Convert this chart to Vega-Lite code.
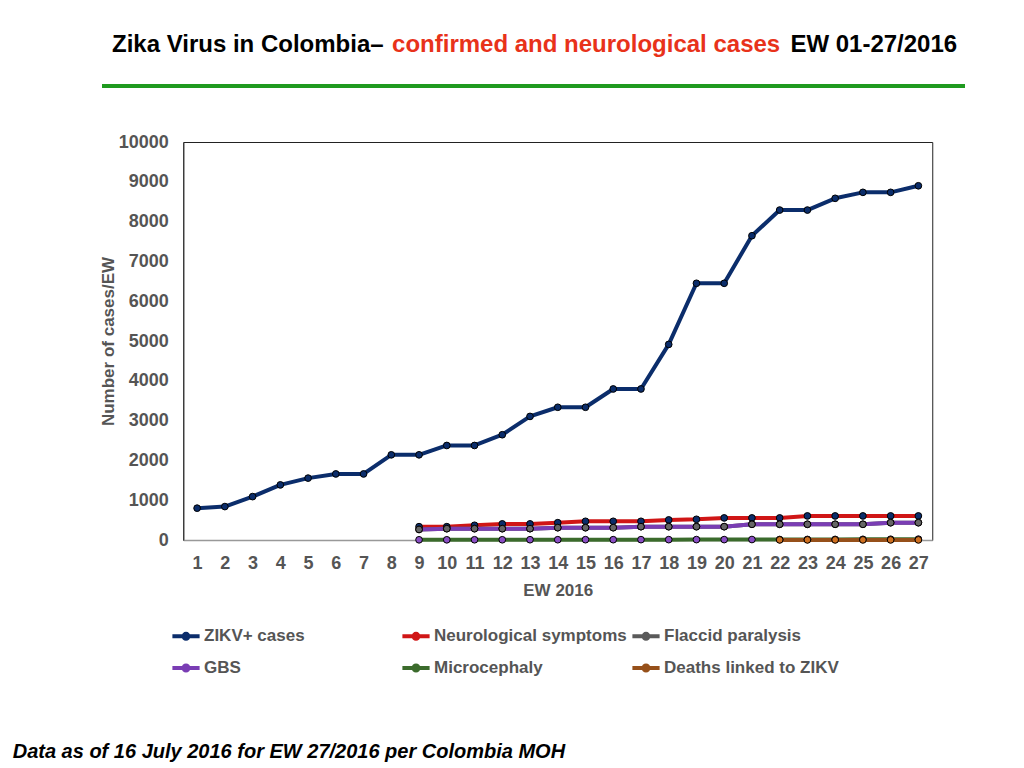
{
  "$schema": "https://vega.github.io/schema/vega-lite/v6.json",
  "autosize": {"type": "pad"},
  "padding": {"left": 12, "top": 33, "right": 5, "bottom": 5},
  "background": "white",
  "title": {
    "text": "Data as of 16 July 2016 for EW 27/2016 per Colombia MOH",
    "orient": "bottom",
    "anchor": "start",
    "font": "Liberation Sans",
    "fontSize": 20,
    "fontWeight": "bold",
    "fontStyle": "italic",
    "color": "black",
    "offset": 63,
    "dx": -86
  },
  "config": {
    "font": "Liberation Sans",
    "view": {"stroke": "#222", "strokeWidth": 1},
    "axis": {
      "labelFont": "Liberation Sans",
      "labelFontWeight": "bold",
      "labelFontSize": 18,
      "labelColor": "#555555",
      "titleFont": "Liberation Sans",
      "titleFontWeight": "bold",
      "titleFontSize": 17,
      "titleColor": "#555555",
      "grid": false,
      "ticks": false
    },
    "legend": {
      "orient": "none",
      "legendX": 68,
      "legendY": 536,
      "direction": "horizontal",
      "columns": 3,
      "columnPadding": -3,
      "rowPadding": 5,
      "gridAlign": "all",
      "padding": 0,
      "labelFont": "Liberation Sans",
      "labelFontWeight": "bold",
      "labelFontSize": 17,
      "labelColor": "#555555",
      "labelOffset": 2,
      "labelLimit": 400,
      "symbolLimit": 0
    }
  },
  "spacing": 44,
  "center": true,
  "vconcat": [
    {
      "data": {"values": []},
      "mark": "point",
      "width": 863,
      "height": 4,
      "view": {"fill": "#1f9a1f", "stroke": null},
      "encoding": {
        "y": {
          "field": "v",
          "type": "quantitative",
          "scale": {"domain": [0, 1]},
          "axis": {"orient": "right", "title": null, "labels": false, "domain": false, "ticks": false, "grid": false, "minExtent": 49, "maxExtent": 49}
        }
      },
      "title": {
        "text": "Zika Virus in Colombia–\u00a0\u00a0\u00a0\u00a0\u00a0\u00a0\u00a0\u00a0\u00a0\u00a0\u00a0\u00a0\u00a0\u00a0\u00a0\u00a0\u00a0\u00a0\u00a0\u00a0\u00a0\u00a0\u00a0\u00a0\u00a0\u00a0\u00a0\u00a0\u00a0\u00a0\u00a0\u00a0\u00a0\u00a0\u00a0\u00a0\u00a0\u00a0\u00a0\u00a0\u00a0\u00a0\u00a0\u00a0\u00a0\u00a0\u00a0\u00a0\u00a0\u00a0\u00a0\u00a0\u00a0\u00a0\u00a0\u00a0\u00a0\u00a0\u00a0\u00a0\u00a0EW 01-27/2016",
        "subtitle": "\u200d\u00a0\u00a0\u00a0\u00a0\u00a0\u00a0\u00a0\u00a0\u00a0\u00a0\u00a0\u00a0\u00a0\u00a0\u00a0\u00a0\u00a0\u00a0\u00a0\u00a0\u00a0\u00a0\u00a0\u00a0\u00a0\u00a0\u00a0\u00a0\u00a0\u00a0\u00a0\u00a0\u00a0\u00a0\u00a0\u00a0\u00a0\u00a0\u00a0\u00a0\u00a0\u00a0confirmed and neurological cases",
        "anchor": "start",
        "font": "Liberation Sans",
        "fontSize": 24,
        "fontWeight": "bold",
        "color": "black",
        "subtitleFont": "Liberation Sans",
        "subtitleFontSize": 24,
        "subtitleFontWeight": "bold",
        "subtitleColor": "#e8321a",
        "subtitlePadding": -24,
        "offset": 27,
        "dx": 10
      }
    },
    {
      "width": 749,
      "height": 398,
      "data": {
        "values": [
          {"week": 1, "series": "ZIKV+ cases", "cases": 800},
          {"week": 2, "series": "ZIKV+ cases", "cases": 840},
          {"week": 3, "series": "ZIKV+ cases", "cases": 1090},
          {"week": 4, "series": "ZIKV+ cases", "cases": 1385},
          {"week": 5, "series": "ZIKV+ cases", "cases": 1555},
          {"week": 6, "series": "ZIKV+ cases", "cases": 1660},
          {"week": 7, "series": "ZIKV+ cases", "cases": 1660},
          {"week": 8, "series": "ZIKV+ cases", "cases": 2140},
          {"week": 9, "series": "ZIKV+ cases", "cases": 2140},
          {"week": 10, "series": "ZIKV+ cases", "cases": 2375},
          {"week": 11, "series": "ZIKV+ cases", "cases": 2375},
          {"week": 12, "series": "ZIKV+ cases", "cases": 2645},
          {"week": 13, "series": "ZIKV+ cases", "cases": 3105},
          {"week": 14, "series": "ZIKV+ cases", "cases": 3335},
          {"week": 15, "series": "ZIKV+ cases", "cases": 3335},
          {"week": 16, "series": "ZIKV+ cases", "cases": 3795},
          {"week": 17, "series": "ZIKV+ cases", "cases": 3795},
          {"week": 18, "series": "ZIKV+ cases", "cases": 4915},
          {"week": 19, "series": "ZIKV+ cases", "cases": 6450},
          {"week": 20, "series": "ZIKV+ cases", "cases": 6450},
          {"week": 21, "series": "ZIKV+ cases", "cases": 7645},
          {"week": 22, "series": "ZIKV+ cases", "cases": 8290},
          {"week": 23, "series": "ZIKV+ cases", "cases": 8290},
          {"week": 24, "series": "ZIKV+ cases", "cases": 8585},
          {"week": 25, "series": "ZIKV+ cases", "cases": 8735},
          {"week": 26, "series": "ZIKV+ cases", "cases": 8735},
          {"week": 27, "series": "ZIKV+ cases", "cases": 8900},
          {"week": 9, "series": "Neurological symptoms", "cases": 335},
          {"week": 10, "series": "Neurological symptoms", "cases": 335},
          {"week": 11, "series": "Neurological symptoms", "cases": 370},
          {"week": 12, "series": "Neurological symptoms", "cases": 405},
          {"week": 13, "series": "Neurological symptoms", "cases": 405},
          {"week": 14, "series": "Neurological symptoms", "cases": 435},
          {"week": 15, "series": "Neurological symptoms", "cases": 470},
          {"week": 16, "series": "Neurological symptoms", "cases": 470},
          {"week": 17, "series": "Neurological symptoms", "cases": 470},
          {"week": 18, "series": "Neurological symptoms", "cases": 505},
          {"week": 19, "series": "Neurological symptoms", "cases": 520},
          {"week": 20, "series": "Neurological symptoms", "cases": 555},
          {"week": 21, "series": "Neurological symptoms", "cases": 555},
          {"week": 22, "series": "Neurological symptoms", "cases": 555},
          {"week": 23, "series": "Neurological symptoms", "cases": 605},
          {"week": 24, "series": "Neurological symptoms", "cases": 605},
          {"week": 25, "series": "Neurological symptoms", "cases": 605},
          {"week": 26, "series": "Neurological symptoms", "cases": 605},
          {"week": 27, "series": "Neurological symptoms", "cases": 605},
          {"week": 9, "series": "Flaccid paralysis", "cases": 265},
          {"week": 10, "series": "Flaccid paralysis", "cases": 285},
          {"week": 11, "series": "Flaccid paralysis", "cases": 285},
          {"week": 12, "series": "Flaccid paralysis", "cases": 285},
          {"week": 13, "series": "Flaccid paralysis", "cases": 285},
          {"week": 14, "series": "Flaccid paralysis", "cases": 310},
          {"week": 15, "series": "Flaccid paralysis", "cases": 310},
          {"week": 16, "series": "Flaccid paralysis", "cases": 310},
          {"week": 17, "series": "Flaccid paralysis", "cases": 335},
          {"week": 18, "series": "Flaccid paralysis", "cases": 335},
          {"week": 19, "series": "Flaccid paralysis", "cases": 335},
          {"week": 20, "series": "Flaccid paralysis", "cases": 335},
          {"week": 21, "series": "Flaccid paralysis", "cases": 395},
          {"week": 22, "series": "Flaccid paralysis", "cases": 395},
          {"week": 23, "series": "Flaccid paralysis", "cases": 395},
          {"week": 24, "series": "Flaccid paralysis", "cases": 395},
          {"week": 25, "series": "Flaccid paralysis", "cases": 395},
          {"week": 26, "series": "Flaccid paralysis", "cases": 435},
          {"week": 27, "series": "Flaccid paralysis", "cases": 435},
          {"week": 9, "series": "GBS", "cases": 265},
          {"week": 10, "series": "GBS", "cases": 285},
          {"week": 11, "series": "GBS", "cases": 285},
          {"week": 12, "series": "GBS", "cases": 285},
          {"week": 13, "series": "GBS", "cases": 285},
          {"week": 14, "series": "GBS", "cases": 310},
          {"week": 15, "series": "GBS", "cases": 310},
          {"week": 16, "series": "GBS", "cases": 310},
          {"week": 17, "series": "GBS", "cases": 335},
          {"week": 18, "series": "GBS", "cases": 335},
          {"week": 19, "series": "GBS", "cases": 335},
          {"week": 20, "series": "GBS", "cases": 335},
          {"week": 21, "series": "GBS", "cases": 395},
          {"week": 22, "series": "GBS", "cases": 395},
          {"week": 23, "series": "GBS", "cases": 395},
          {"week": 24, "series": "GBS", "cases": 395},
          {"week": 25, "series": "GBS", "cases": 395},
          {"week": 26, "series": "GBS", "cases": 435},
          {"week": 27, "series": "GBS", "cases": 435},
          {"week": 9, "series": "Microcephaly", "cases": 5},
          {"week": 10, "series": "Microcephaly", "cases": 5},
          {"week": 11, "series": "Microcephaly", "cases": 6},
          {"week": 12, "series": "Microcephaly", "cases": 6},
          {"week": 13, "series": "Microcephaly", "cases": 7},
          {"week": 14, "series": "Microcephaly", "cases": 7},
          {"week": 15, "series": "Microcephaly", "cases": 8},
          {"week": 16, "series": "Microcephaly", "cases": 8},
          {"week": 17, "series": "Microcephaly", "cases": 9},
          {"week": 18, "series": "Microcephaly", "cases": 9},
          {"week": 19, "series": "Microcephaly", "cases": 10},
          {"week": 20, "series": "Microcephaly", "cases": 10},
          {"week": 21, "series": "Microcephaly", "cases": 12},
          {"week": 22, "series": "Microcephaly", "cases": 12},
          {"week": 23, "series": "Microcephaly", "cases": 14},
          {"week": 24, "series": "Microcephaly", "cases": 15},
          {"week": 25, "series": "Microcephaly", "cases": 17},
          {"week": 26, "series": "Microcephaly", "cases": 19},
          {"week": 27, "series": "Microcephaly", "cases": 21},
          {"week": 22, "series": "Deaths linked to ZIKV", "cases": 3},
          {"week": 23, "series": "Deaths linked to ZIKV", "cases": 3},
          {"week": 24, "series": "Deaths linked to ZIKV", "cases": 3},
          {"week": 25, "series": "Deaths linked to ZIKV", "cases": 3},
          {"week": 26, "series": "Deaths linked to ZIKV", "cases": 3},
          {"week": 27, "series": "Deaths linked to ZIKV", "cases": 3}
        ]
      },
      "encoding": {
        "x": {
          "field": "week",
          "type": "ordinal",
          "scale": {"domain": [1,2,3,4,5,6,7,8,9,10,11,12,13,14,15,16,17,18,19,20,21,22,23,24,25,26,27]},
          "axis": {"title": "EW 2016", "labelAngle": 0, "labelPadding": 14, "titlePadding": 10, "domainColor": "#999999", "domainWidth": 1.5}
        },
        "y": {
          "field": "cases",
          "type": "quantitative",
          "scale": {"domain": [0, 10000]},
          "axis": {"title": "Number of cases/EW", "values": [0,1000,2000,3000,4000,5000,6000,7000,8000,9000,10000], "format": "d", "labelPadding": 15, "titlePadding": 1, "domainColor": "#333333"}
        }
      },
      "layer": [
        {
          "mark": {"type": "line", "strokeWidth": 4, "strokeJoin": "round", "strokeCap": "round"},
          "encoding": {
            "stroke": {
              "field": "series",
              "type": "nominal",
              "scale": {
                "domain": ["ZIKV+ cases", "Neurological symptoms", "Flaccid paralysis", "GBS", "Microcephaly", "Deaths linked to ZIKV"],
                "range": ["#0b2d6b", "#d01616", "#5a5a5a", "#7a3db4", "#3b6b2c", "#96501a"]
              },
              "legend": {
                "title": null,
                "symbolType": "M-1,0L1,0M-0.18,0A0.18,0.18,0,1,1,0.18,0A0.18,0.18,0,1,1,-0.18,0Z",
                "symbolSize": 740,
                "symbolStrokeWidth": 4
              }
            }
          }
        },
        {
          "mark": {"type": "circle", "size": 45, "stroke": "black", "strokeWidth": 1, "opacity": 1},
          "encoding": {
            "fill": {
              "field": "series",
              "type": "nominal",
              "scale": {
                "domain": ["ZIKV+ cases", "Neurological symptoms", "Flaccid paralysis", "GBS", "Microcephaly", "Deaths linked to ZIKV"],
                "range": ["#0b2d6b", "#0b2d6b", "#c01a1a", "#666666", "#8a4ec4", "#d07020"]
              },
              "legend": {
                "title": null,
                "symbolType": "M-1,0L1,0M-0.18,0A0.18,0.18,0,1,1,0.18,0A0.18,0.18,0,1,1,-0.18,0Z",
                "symbolSize": 740,
                "symbolStrokeWidth": 4
              }
            }
          }
        }
      ]
    }
  ]
}
